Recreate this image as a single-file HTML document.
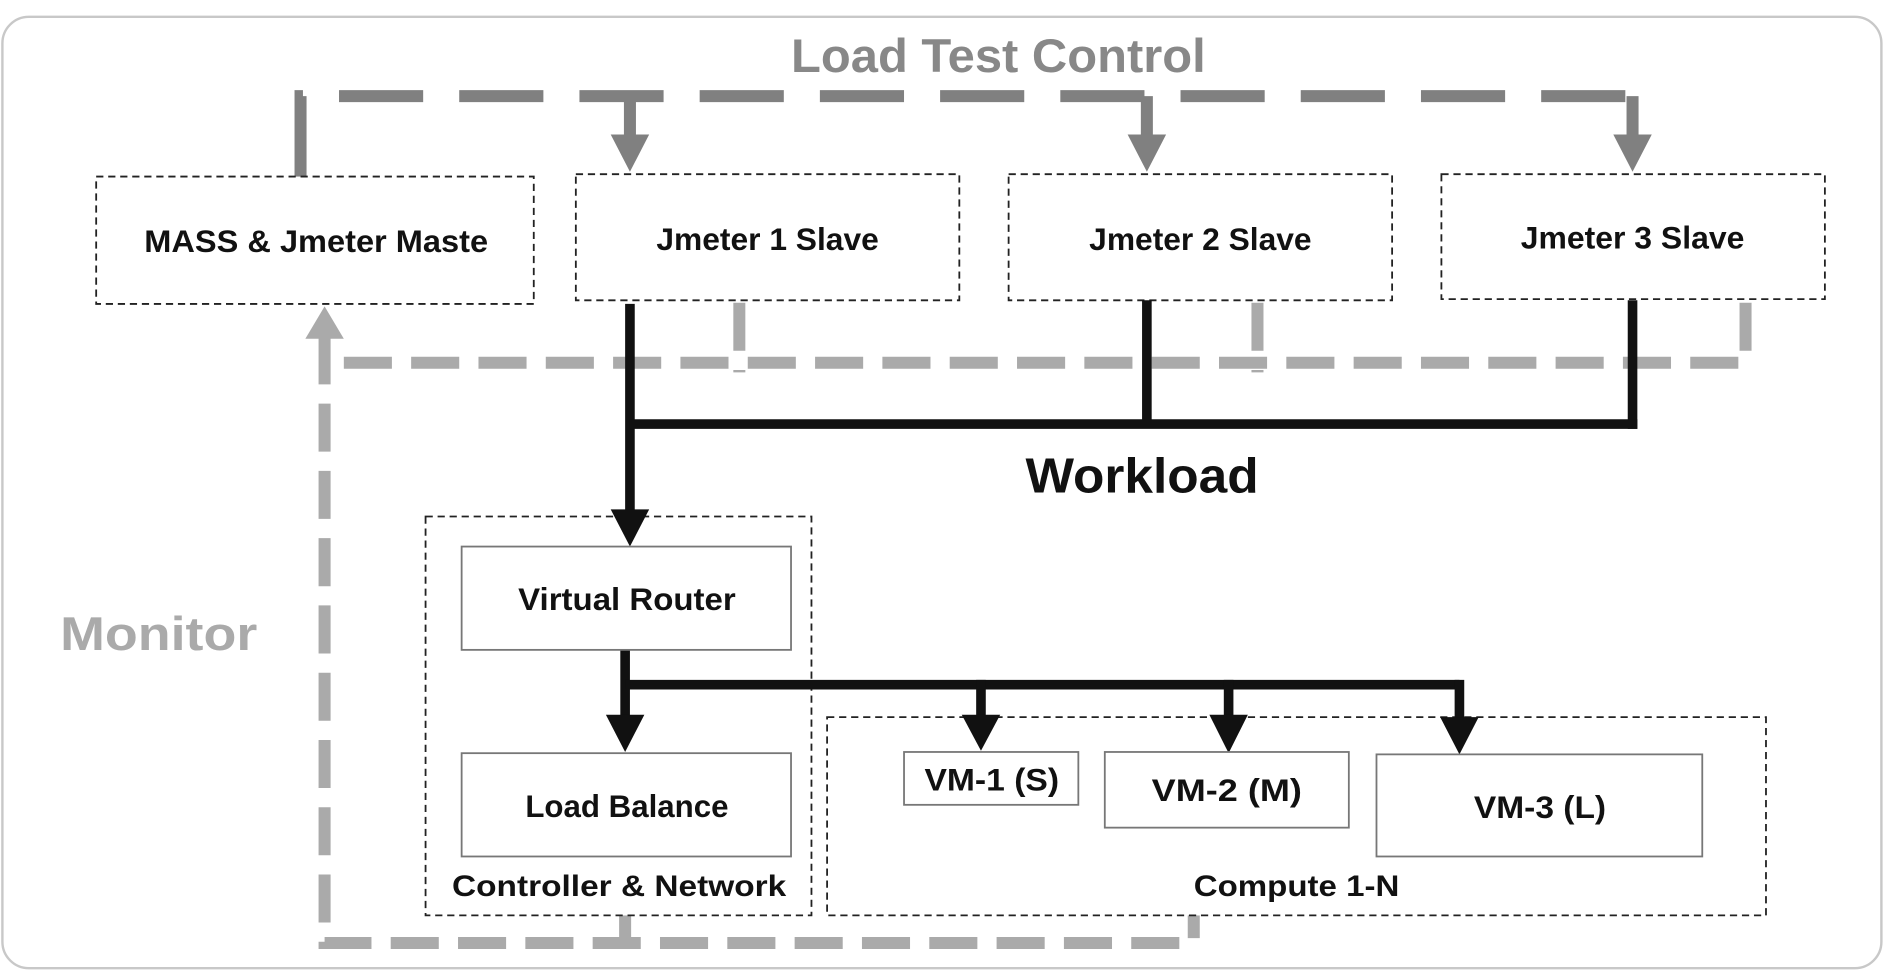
<!DOCTYPE html>
<html><head><meta charset="utf-8"><style>
html,body{margin:0;padding:0;background:#fff;}
svg{display:block;}
text{font-family:"Liberation Sans",sans-serif;font-weight:bold;}
</style></head><body>
<svg width="1885" height="973" viewBox="0 0 1568 810" preserveAspectRatio="none" xmlns="http://www.w3.org/2000/svg">
<rect x="2" y="14" width="1563" height="792" rx="22" fill="#fff" stroke="#c8c8c8" stroke-width="2"/>
<text x="658" y="60" font-size="39" fill="#888" textLength="345" lengthAdjust="spacingAndGlyphs">Load Test Control</text>
<g stroke="#808080" stroke-width="10" fill="none">
<polyline points="250,148 250,80 1358,80" stroke-dasharray="70,30"/>
<line x1="524" y1="80" x2="524" y2="114"/>
<line x1="954" y1="80" x2="954" y2="114"/>
<line x1="1358" y1="80" x2="1358" y2="114"/>
</g>
<g fill="#808080">
<polygon points="508,112 540,112 524,143"/>
<polygon points="938,112 970,112 954,143"/>
<polygon points="1342,112 1374,112 1358,143"/>
</g>
<g stroke="#aaa" stroke-width="10" fill="none" stroke-dasharray="40,16">
<line x1="615" y1="252" x2="615" y2="310"/>
<line x1="1046" y1="252" x2="1046" y2="310"/>
<polyline points="1452,252 1452,302 270,302"/>
<polyline points="270,280 270,785 993,785 993,762"/>
<line x1="520" y1="762" x2="520" y2="785"/>
</g>
<polygon points="254,282 286,282 270,255" fill="#aaa"/>
<g fill="#fff" stroke="#222" stroke-width="1.5" stroke-dasharray="6,4">
<rect x="80" y="147" width="364" height="106"/>
<rect x="479" y="145" width="319" height="105"/>
<rect x="839" y="145" width="319" height="105"/>
<rect x="1199" y="145" width="319" height="104"/>
<rect x="354" y="430" width="321" height="332"/>
<rect x="688" y="597" width="781" height="165"/>
</g>
<g font-size="26" fill="#111" lengthAdjust="spacingAndGlyphs">
<text x="120" y="210" textLength="286" lengthAdjust="spacingAndGlyphs">MASS &amp; Jmeter Maste</text>
<text x="546" y="208" textLength="185" lengthAdjust="spacingAndGlyphs">Jmeter 1 Slave</text>
<text x="906" y="208" textLength="185" lengthAdjust="spacingAndGlyphs">Jmeter 2 Slave</text>
<text x="1265" y="207" textLength="186" lengthAdjust="spacingAndGlyphs">Jmeter 3 Slave</text>
</g>
<g stroke="#111" stroke-width="8" fill="none">
<line x1="524" y1="253" x2="524" y2="428"/>
<polyline points="524,353 1362,353"/>
<line x1="954" y1="250" x2="954" y2="353"/>
<line x1="1358" y1="250" x2="1358" y2="357"/>
<line x1="520" y1="541" x2="520" y2="598"/>
<polyline points="520,570 1214,570"/>
<line x1="816" y1="566" x2="816" y2="598"/>
<line x1="1022" y1="566" x2="1022" y2="598"/>
<line x1="1214" y1="566" x2="1214" y2="600"/>
</g>
<g fill="#111">
<polygon points="508,424 540,424 524,455"/>
<polygon points="504,595 536,595 520,626"/>
<polygon points="800,595 832,595 816,625"/>
<polygon points="1006,595 1038,595 1022,627"/>
<polygon points="1198,597 1230,597 1214,628"/>
</g>
<text x="853" y="410" font-size="41" fill="#111" textLength="194" lengthAdjust="spacingAndGlyphs">Workload</text>
<text x="50" y="541" font-size="39" fill="#aaa" textLength="164" lengthAdjust="spacingAndGlyphs">Monitor</text>
<g fill="#fff" stroke="#777" stroke-width="1.5">
<rect x="384" y="455" width="274" height="86"/>
<rect x="384" y="627" width="274" height="86"/>
<rect x="752" y="626" width="145" height="44"/>
<rect x="919" y="626" width="203" height="63"/>
<rect x="1145" y="628" width="271" height="85"/>
</g>
<g font-size="26" fill="#111">
<text x="431" y="508" textLength="181" lengthAdjust="spacingAndGlyphs">Virtual Router</text>
<text x="437" y="680" textLength="169" lengthAdjust="spacingAndGlyphs">Load Balance</text>
<text x="769" y="658" textLength="112" lengthAdjust="spacingAndGlyphs">VM-1 (S)</text>
<text x="958" y="667" textLength="125" lengthAdjust="spacingAndGlyphs">VM-2 (M)</text>
<text x="1226" y="681" textLength="110" lengthAdjust="spacingAndGlyphs">VM-3 (L)</text>
<text x="376" y="746" font-size="25" textLength="278" lengthAdjust="spacingAndGlyphs">Controller &amp; Network</text>
<text x="993" y="746" font-size="25" textLength="171" lengthAdjust="spacingAndGlyphs">Compute 1-N</text>
</g>
</svg>
</body></html>
